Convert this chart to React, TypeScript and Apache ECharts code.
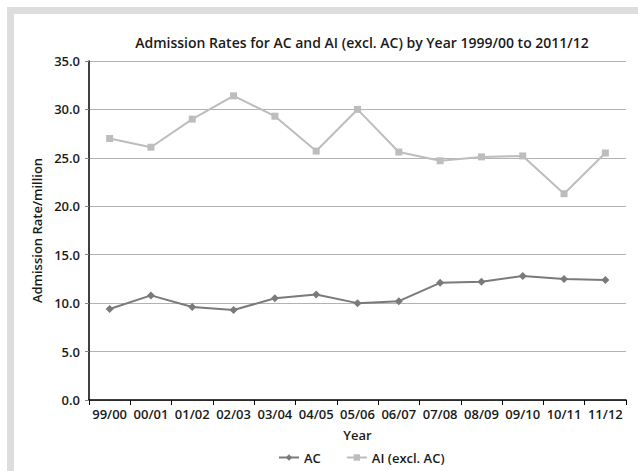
import React, { useEffect, useRef } from "react";
import * as echarts from "echarts";

const years = ["99/00", "00/01", "01/02", "02/03", "03/04", "04/05", "05/06", "06/07", "07/08", "08/09", "09/10", "10/11", "11/12"];
const acValues = [9.4, 10.8, 9.6, 9.3, 10.5, 10.9, 10.0, 10.2, 12.1, 12.2, 12.8, 12.5, 12.4];
const aiValues = [27.0, 26.1, 29.0, 31.4, 29.3, 25.7, 30.0, 25.6, 24.7, 25.1, 25.2, 21.3, 25.5];
const yTicks = { min: 0, max: 35, interval: 5 };

const FONT = "'Open Sans', 'Noto Sans', sans-serif";

export default function App() {
  const ref = useRef<HTMLDivElement>(null);
  useEffect(() => {
    const chart = echarts.init(ref.current!, null, { renderer: "svg" });
    chart.setOption({
      animation: false,
      backgroundColor: "#ffffff",
      textStyle: { fontFamily: FONT },
      graphic: [
        {
          type: "rect",
          shape: { x: 10.5, y: 10.5, width: 700, height: 600 },
          style: { fill: "none", stroke: "#dcdddf", lineWidth: 7 },
          silent: true,
          z: -10,
        },
      ],
      title: {
        text: "Admission Rates for AC and AI (excl. AC) by Year 1999/00 to 2011/12",
        left: 357,
        textAlign: "center",
        top: 30,
        textStyle: { fontFamily: FONT, fontSize: 14, fontWeight: 600, color: "#1a1a1a" },
      },
      legend: {
        left: 273,
        top: 446,
        itemWidth: 20,
        itemHeight: 8,
        itemGap: 25,
        textStyle: { fontFamily: FONT, fontSize: 13, fontWeight: 600, color: "#1a1a1a" },
        data: ["AC", "AI (excl. AC)"],
      },
      grid: { left: 89, right: 12, top: 61, bottom: 71, containLabel: false },
      xAxis: {
        type: "category",
        data: years,
        boundaryGap: true,
        name: "Year",
        nameLocation: "middle",
        nameGap: 28,
        nameTextStyle: { fontFamily: FONT, fontSize: 13, fontWeight: 600, color: "#1a1a1a" },
        axisLine: { lineStyle: { color: "#000", width: 1.5 } },
        axisTick: { show: true, length: 5, inside: false, interval: 0, lineStyle: { color: "#000" } },
        axisLabel: { interval: 0, fontFamily: FONT, fontSize: 13, fontWeight: 600, color: "#1a1a1a", margin: 7 },
        splitLine: { show: false },
      },
      yAxis: {
        type: "value",
        min: yTicks.min,
        max: yTicks.max,
        interval: yTicks.interval,
        name: "Admission Rate/million",
        nameLocation: "middle",
        nameGap: 46,
        nameTextStyle: { fontFamily: FONT, fontSize: 13, fontWeight: 600, color: "#1a1a1a" },
        axisLine: { show: true, lineStyle: { color: "#000", width: 1.5 } },
        axisTick: { show: true, length: 4, lineStyle: { color: "#888" } },
        axisLabel: {
          fontFamily: FONT,
          fontSize: 13,
          fontWeight: 600,
          color: "#1a1a1a",
          margin: 9,
          formatter: (v: number) => v.toFixed(1),
        },
        splitLine: { show: true, lineStyle: { color: "#b3b3b3", width: 1.2 } },
      },
      series: [
        {
          name: "AC",
          type: "line",
          data: acValues,
          symbol: "diamond",
          symbolSize: 8,
          itemStyle: { color: "#7a7a7a" },
          lineStyle: { color: "#7a7a7a", width: 2 },
        },
        {
          name: "AI (excl. AC)",
          type: "line",
          data: aiValues,
          symbol: "rect",
          symbolSize: 7,
          itemStyle: { color: "#bdbdbd" },
          lineStyle: { color: "#bdbdbd", width: 2 },
        },
      ],
    });
    return () => chart.dispose();
  }, []);
  return (
    <div style={{ position: "fixed", left: 0, top: 0, width: 638, height: 471 }}>
      <div ref={ref} style={{ width: 638, height: 471 }} />
    </div>
  );
}
